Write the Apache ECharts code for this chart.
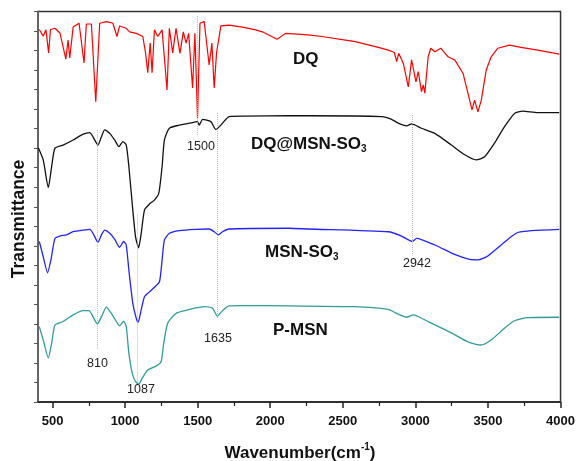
<!DOCTYPE html>
<html>
<head>
<meta charset="utf-8">
<script src="https://cdn.jsdelivr.net/npm/echarts@6/dist/echarts.min.js"></script>
<style>
  html, body { margin: 0; padding: 0; background: #fff; }
  #chart { width: 578px; height: 461px; }
</style>
</head>
<body>
<div id="chart"></div>
<script>
// FTIR spectra, [wavenumber, transmittance (a.u.)]
const dqSpectrum = [
  [409, 95.4], [436, 93.7], [455, 95.3], [473, 89.4], [486, 95.4], [517, 95.7], [551, 94.5],
  [592, 87.8], [607, 92.7], [619, 88.1], [642, 96.0], [683, 97.0], [717, 86.8], [733, 96.8],
  [768, 96.8], [798, 76.9], [825, 97.0], [871, 97.4], [916, 97.0], [944, 93.6], [962, 96.3],
  [1008, 95.7], [1031, 94.8], [1077, 94.4], [1122, 93.6], [1141, 89.4], [1156, 84.3], [1173, 91.9],
  [1186, 84.3], [1202, 95.3], [1225, 93.6], [1255, 95.3], [1289, 79.9], [1305, 95.7], [1328, 89.4],
  [1351, 95.7], [1378, 89.3], [1401, 94.8], [1420, 91.9], [1438, 94.4], [1465, 80.4], [1481, 94.4],
  [1499, 72.7], [1516, 97.0], [1545, 97.4], [1579, 86.3], [1598, 91.9], [1614, 80.4], [1630, 89.4],
  [1660, 96.3], [1717, 96.5], [1808, 96.0], [1900, 95.3], [1945, 94.8], [2048, 92.9], [2105, 94.4],
  [2260, 94.0], [2356, 93.6], [2585, 92.3], [2745, 90.8], [2814, 90.1], [2855, 89.5], [2871, 87.2],
  [2885, 89.3], [2917, 86.7], [2951, 80.7], [2974, 87.6], [3004, 82.0], [3020, 84.6], [3042, 79.5],
  [3054, 81.2], [3065, 79.1], [3088, 88.4], [3106, 90.6], [3134, 89.7], [3175, 90.6], [3225, 88.4],
  [3271, 87.6], [3328, 84.2], [3362, 79.1], [3390, 74.8], [3408, 77.3], [3431, 74.3], [3454, 77.3],
  [3488, 85.0], [3522, 88.4], [3568, 90.6], [3648, 91.4], [3728, 90.8], [3842, 90.1], [3991, 89.1]
];

const dqMsnSpectrum = [
  [402, 65.1], [436, 62.0], [471, 54.9], [494, 60.3], [517, 65.0], [573, 65.8], [642, 67.1],
  [711, 68.6], [757, 69.0], [779, 67.9], [813, 65.8], [837, 67.9], [859, 69.7], [894, 68.8],
  [928, 67.1], [958, 65.4], [985, 66.7], [1008, 65.8], [1026, 60.3], [1053, 49.2], [1072, 42.3],
  [1093, 39.5], [1111, 43.2], [1134, 49.2], [1168, 50.7], [1202, 51.7], [1232, 53.4], [1255, 60.3],
  [1271, 67.1], [1305, 70.1], [1374, 70.9], [1442, 71.4], [1499, 71.8], [1511, 70.9], [1534, 72.4],
  [1591, 71.8], [1625, 69.8], [1660, 70.9], [1717, 73.1], [1831, 73.2], [2128, 73.3], [2265, 73.3],
  [2768, 73.1], [2836, 72.4], [2882, 71.4], [2939, 70.7], [2974, 71.2], [3042, 70.1], [3134, 68.8],
  [3248, 65.8], [3340, 63.3], [3419, 62.0], [3477, 62.8], [3545, 66.3], [3614, 70.5], [3683, 73.9],
  [3739, 74.5], [3842, 74.1], [3991, 74.1]
];

const msnSo3Spectrum = [
  [409, 41.1], [436, 37.2], [466, 33.1], [489, 36.4], [517, 41.9], [551, 42.5], [597, 42.8],
  [642, 43.6], [711, 44.0], [757, 44.2], [779, 43.2], [813, 40.9], [837, 42.8], [859, 44.0],
  [894, 43.2], [928, 41.7], [962, 39.6], [990, 41.1], [1008, 40.2], [1026, 33.8], [1053, 25.3],
  [1077, 21.4], [1090, 20.4], [1111, 23.6], [1134, 27.0], [1168, 28.2], [1202, 29.4], [1237, 30.8],
  [1255, 36.4], [1271, 41.5], [1305, 43.2], [1374, 43.9], [1488, 44.2], [1579, 44.3], [1614, 43.6],
  [1643, 42.8], [1671, 43.6], [1717, 44.3], [2128, 44.5], [2265, 44.3], [2814, 43.6], [2905, 42.5],
  [2979, 41.1], [3008, 41.9], [3134, 40.2], [3271, 37.8], [3374, 36.5], [3431, 36.4], [3499, 37.4],
  [3591, 40.2], [3659, 42.3], [3705, 43.4], [3751, 43.7], [3865, 44.0], [3991, 44.2]
];

const pMsnSpectrum = [
  [409, 19.3], [436, 15.9], [471, 11.3], [494, 15.0], [517, 19.7], [573, 20.6], [642, 22.3],
  [711, 23.4], [752, 23.4], [779, 21.8], [809, 20.0], [837, 21.8], [871, 24.3], [905, 22.7],
  [940, 20.6], [962, 19.5], [990, 20.7], [1008, 19.3], [1026, 12.5], [1049, 7.4], [1072, 5.2],
  [1095, 4.6], [1118, 6.1], [1156, 8.2], [1214, 9.2], [1248, 10.3], [1266, 15.0], [1294, 20.2],
  [1351, 22.7], [1442, 23.7], [1545, 24.4], [1602, 24.0], [1636, 22.0], [1671, 23.4], [1717, 24.6],
  [1808, 24.7], [2128, 24.6], [2585, 24.4], [2814, 23.7], [2860, 22.9], [2882, 22.5], [2939, 21.7],
  [2985, 22.3], [3088, 20.6], [3248, 17.7], [3362, 15.4], [3449, 14.6], [3522, 15.9], [3614, 18.9],
  [3683, 20.8], [3774, 21.6], [3991, 21.7]
];

// dotted guide lines: [wavenumber, from, to]
const guideLines = [[810, 69.7, 13.3], [1087, 48, 5], [1500, 98.9, 68.4], [1635, 74, 21.5], [2975, 73.5, 37.6]];

const xTickValues = [500, 1000, 1500, 2000, 2500, 3000, 3500, 4000];
const xMinorTickValues = [750, 1250, 1750, 2250, 2750, 3250, 3750];
const peakLabels = ['1500', '2942', '810', '1087', '1635'];

const FONT = 'Liberation Sans, Arial, Helvetica, sans-serif';

const chart = echarts.init(document.getElementById('chart'), null, { renderer: 'canvas' });

function sampleText(x, y, main, sub) {
  return {
    type: 'text', x: x, y: y, z: 100,
    style: {
      text: sub ? `{a|${main}}{s|${sub}}` : `{a|${main}}`,
      textVerticalAlign: 'middle',
      rich: {
        a: { fontFamily: FONT, fontSize: 17, fontWeight: 'bold', fill: '#111', lineHeight: 20 },
        s: { fontFamily: FONT, fontSize: 10, fontWeight: 'bold', fill: '#111', lineHeight: 20, verticalAlign: 'bottom' }
      }
    }
  };
}

function peakText(x, y, text) {
  return {
    type: 'text', x: x, y: y, z: 100,
    style: { text: text, fontFamily: FONT, fontSize: 12.5, fill: '#222', textAlign: 'center', textVerticalAlign: 'middle' }
  };
}

chart.setOption({
  animation: false,
  grid: { left: 38, right: 15, top: 11.5, bottom: 59, show: true, borderColor: '#333', borderWidth: 1.5 },
  xAxis: [
    {
      type: 'value', min: 400, max: 4000,
      axisLine: { lineStyle: { color: '#222', width: 1.5 } },
      axisTick: { show: true, customValues: xTickValues, length: 6, lineStyle: { color: '#222', width: 1.5 } },
      axisLabel: {
        customValues: xTickValues, margin: 13, formatter: (v) => String(v),
        fontFamily: FONT, fontSize: 13, fontWeight: 'bold', color: '#111'
      },
      splitLine: { show: false }
    },
    {
      type: 'value', min: 400, max: 4000, position: 'bottom',
      axisLine: { show: false },
      axisTick: { show: true, customValues: xMinorTickValues, length: 4, lineStyle: { color: '#222', width: 1.2 } },
      axisLabel: { show: false },
      splitLine: { show: false }
    }
  ],
  yAxis: {
    type: 'value', min: 0, max: 100, interval: 5,
    axisLine: { show: true, lineStyle: { color: '#666', width: 1.5 } },
    axisTick: { show: true, length: 4, lineStyle: { color: '#555', width: 1 } },
    axisLabel: { show: false },
    splitLine: { show: false }
  },
  series: [
    {
      type: 'line', data: [], silent: true, z: 1,
      markLine: {
        silent: true, symbol: ['none', 'none'], label: { show: false },
        lineStyle: { type: 'dotted', color: '#bbbbbb', width: 1 },
        data: guideLines.map(g => [{ coord: [g[0], g[1]] }, { coord: [g[0], g[2]] }])
      }
    },
    { name: 'DQ', type: 'line', data: dqSpectrum, showSymbol: false, lineStyle: { color: '#ff0000', width: 1.2 } },
    { name: 'DQ@MSN-SO3', type: 'line', data: dqMsnSpectrum, showSymbol: false, smooth: 0.2, lineStyle: { color: '#111111', width: 1.3 } },
    { name: 'MSN-SO3', type: 'line', data: msnSo3Spectrum, showSymbol: false, smooth: 0.2, lineStyle: { color: '#2222ff', width: 1.3 } },
    { name: 'P-MSN', type: 'line', data: pMsnSpectrum, showSymbol: false, smooth: 0.2, lineStyle: { color: '#2e9c98', width: 1.3 } }
  ],
  graphic: [
    sampleText(293, 59, 'DQ'),
    sampleText(251, 144, 'DQ@MSN-SO', '3'),
    sampleText(265, 252, 'MSN-SO', '3'),
    sampleText(273, 330, 'P-MSN'),
    peakText(201, 147, peakLabels[0]),
    peakText(417, 264, peakLabels[1]),
    peakText(97.5, 364, peakLabels[2]),
    peakText(141, 390, peakLabels[3]),
    peakText(218, 339, peakLabels[4]),
    {
      type: 'text', x: 300, y: 453,
      style: {
        text: '{a|Wavenumber(cm}{s|-1}{a|)}', textAlign: 'center', textVerticalAlign: 'middle',
        rich: {
          a: { fontFamily: FONT, fontSize: 17, fontWeight: 'bold', fill: '#111', lineHeight: 22 },
          s: { fontFamily: FONT, fontSize: 10, fontWeight: 'bold', fill: '#111', lineHeight: 22, verticalAlign: 'top' }
        }
      }
    },
    {
      type: 'text', x: 19, y: 219, rotation: Math.PI / 2,
      style: { text: 'Transmittance', fontFamily: FONT, fontSize: 17.5, fontWeight: 'bold', fill: '#111', textAlign: 'center', textVerticalAlign: 'middle' }
    }
  ]
});
</script>
</body>
</html>
